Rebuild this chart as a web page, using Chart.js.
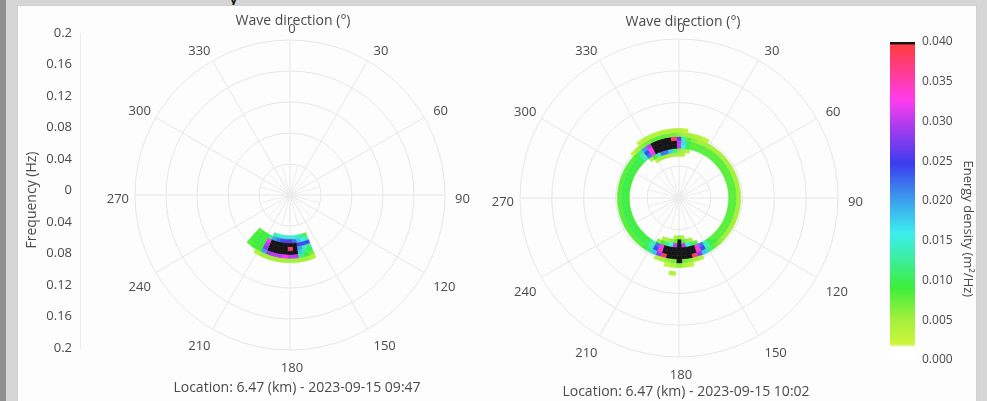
<!DOCTYPE html>
<html>
<head>
<meta charset="utf-8">
<script src="https://cdn.jsdelivr.net/npm/chart.js@4.4.1/dist/chart.umd.min.js"></script>
<style>
  html, body { margin: 0; padding: 0; }
  body { width: 987px; height: 401px; position: relative; overflow: hidden; background: #d6d6d6; font-family: "Open Sans", sans-serif; }
  #edge { position: absolute; left: 0; top: 0; width: 6px; height: 401px; background: #8f8f8f; }
  #panel { position: absolute; left: 17px; top: 5px; width: 960px; height: 400px; background: #fdfdfd; border: 1px solid #cfcfcf; box-sizing: border-box; }
  #heading { position: absolute; left: 228px; top: -20px; font: 22px "Open Sans", sans-serif; color: #111; }
  canvas { position: absolute; top: 0; }
  #cL { left: 0; }
  #cR { left: 490px; }
  #cB { left: 860px; }
</style>
</head>
<body>
<div id="edge"></div>
<div id="heading">y</div>
<div id="panel"></div>
<canvas id="cL" width="490" height="401"></canvas>
<canvas id="cR" width="380" height="401"></canvas>
<canvas id="cB" width="127" height="401"></canvas>
<script>
// ---- spectrum data: energy density in 10^-3 m^2/Hz, one row per frequency bin ----
const DIR_STEP = 5;        // direction bin width (deg)
const FREQ_STEP = 0.005;   // frequency bin width (Hz)

// 2023-09-15 09:47
const DIRS_L = [160, 165, 170, 175, 180, 185, 190, 195, 200, 205, 210, 215, 220];
const FREQS_L = [0.055, 0.06, 0.065, 0.07, 0.075, 0.08, 0.085];
const ENERGY_L = [
  [ 8, 12, 14, 15, 15, 15, 15, 14, 13,  0,  0,  0,  0],
  [14, 16, 18, 22, 26, 26, 24, 22, 20, 12,  9,  9,  8],
  [24, 24, 26, 45, 40, 45, 45, 45, 45, 32,  9,  9,  9],
  [12, 14, 20, 45, 38, 45, 45, 45, 45, 30, 10, 10,  9],
  [10, 12, 18, 45, 40, 45, 45, 45, 45, 28,  9,  9,  9],
  [ 7,  9, 12, 30, 30, 32, 30, 30, 29, 20,  9,  9,  8],
  [ 4,  5,  5,  5,  5,  5,  5,  5,  5,  5,  4,  0,  0]
];

// 2023-09-15 10:02
const DIRS_R = [
    0,   5,  10,  15,  20,  25,  30,  35,  40,  45,  50,  55,
   60,  65,  70,  75,  80,  85,  90,  95, 100, 105, 110, 115,
  120, 125, 130, 135, 140, 145, 150, 155, 160, 165, 170, 175,
  180, 185, 190, 195, 200, 205, 210, 215, 220, 225, 230, 235,
  240, 245, 250, 255, 260, 265, 270, 275, 280, 285, 290, 295,
  300, 305, 310, 315, 320, 325, 330, 335, 340, 345, 350, 355
];
const FREQS_R = [0.05, 0.055, 0.06, 0.065, 0.07, 0.075, 0.08, 0.085, 0.09, 0.095];
const ENERGY_R = [
  [ 0, 0, 0, 0, 0, 0, 0, 0, 0, 0, 0, 0,   0, 0, 0, 0, 0, 0, 0, 0, 0, 0, 0, 0,
    0, 0, 0, 0, 0, 0, 0, 0, 0, 0, 0, 4,   6, 4, 0, 0, 0, 0, 0, 0, 0, 0, 0, 0,
    0, 0, 0, 0, 0, 0, 0, 0, 0, 0, 0, 0,   0, 0, 0, 0, 0, 0, 0, 0, 0, 0, 0, 0],
  [ 5, 4, 0, 0, 0, 0, 0, 0, 0, 0, 0, 0,   0, 0, 0, 0, 0, 0, 0, 0, 0, 0, 0, 0,
    0, 0, 0, 0, 0, 0, 0, 0, 0, 5, 6, 8,  45, 8, 6, 5, 4, 0, 0, 0, 0, 0, 0, 0,
    0, 0, 0, 0, 0, 0, 0, 0, 0, 0, 0, 0,   0, 0, 0, 0, 0, 0, 4, 5, 5, 5, 5, 5],
  [ 6, 5, 4, 0, 0, 0, 0, 0, 0, 0, 0, 0,   0, 0, 0, 0, 0, 0, 0, 0, 0, 0, 0, 0,
    0, 0, 0, 0, 0, 0, 0, 0, 8,12,16,30,  45,30,16,12, 9, 6, 0, 0, 0, 0, 0, 0,
    0, 0, 0, 0, 0, 0, 0, 0, 0, 0, 0, 0,   0, 0, 0, 0, 0, 5, 9,14,22,22,18,12],
  [30,16,10, 8, 8, 8, 8, 8, 8, 8, 8, 8,   8, 8, 8, 8, 8, 8, 8, 8, 8, 8, 8, 8,
    8, 8, 8, 8, 8, 9,14,22,32,45,45,45,  45,45,45,45,32,22,14,10, 9, 9, 9, 9,
    9, 9, 9, 9, 9, 9, 9, 9, 9, 9, 9, 9,   9, 9, 9,10,14,22,32,45,45,45,45,40],
  [30,17,10, 8, 8, 8, 8, 8, 8, 8, 8, 8,   8, 8, 8, 8, 8, 8, 8, 8, 8, 8, 8, 8,
    8, 8, 8, 8, 9,10,14,24,34,45,45,45,  45,45,45,45,34,24,14,11,10,10,10,10,
   10,10,10,10,10,10,10,10,10,10,10,10,  10,10,10,10,14,24,33,45,45,45,45,42],
  [26,13, 8, 6, 5, 5, 5, 5, 5, 5, 5, 5,   5, 5, 5, 5, 5, 5, 5, 5, 5, 5, 5, 5,
    5, 5, 5, 6, 7, 8,12,18,28,38,42,45,  45,45,42,38,28,18,12, 9, 8, 8, 8, 8,
    8, 8, 8, 8, 8, 8, 8, 8, 8, 8, 8, 8,   8, 8, 8, 9,12,20,30,45,45,45,45,38],
  [ 6, 5, 5, 4, 4, 3, 0, 0, 0, 0, 0, 0,   0, 0, 0, 0, 0, 0, 0, 0, 0, 0, 0, 0,
    0, 0, 0, 0, 0, 0, 0, 0, 4, 5, 6, 7,  45, 7, 6, 5, 4, 0, 0, 0, 0, 0, 0, 0,
    0, 0, 0, 0, 0, 0, 0, 0, 0, 0, 0, 0,   0, 0, 0, 3, 5, 6, 7, 8, 8, 8, 7, 7],
  [ 4, 3, 0, 0, 0, 0, 0, 0, 0, 0, 0, 0,   0, 0, 0, 0, 0, 0, 0, 0, 0, 0, 0, 0,
    0, 0, 0, 0, 0, 0, 0, 0, 0, 0, 3, 4,   6, 4, 3, 0, 0, 0, 0, 0, 0, 0, 0, 0,
    0, 0, 0, 0, 0, 0, 0, 0, 0, 0, 0, 0,   0, 0, 0, 0, 0, 3, 4, 4, 4, 4, 4, 4],
  [ 0, 0, 0, 0, 0, 0, 0, 0, 0, 0, 0, 0,   0, 0, 0, 0, 0, 0, 0, 0, 0, 0, 0, 0,
    0, 0, 0, 0, 0, 0, 0, 0, 0, 0, 0, 0,   0, 0, 0, 0, 0, 0, 0, 0, 0, 0, 0, 0,
    0, 0, 0, 0, 0, 0, 0, 0, 0, 0, 0, 0,   0, 0, 0, 0, 0, 0, 0, 0, 0, 0, 0, 0],
  [ 0, 0, 0, 0, 0, 0, 0, 0, 0, 0, 0, 0,   0, 0, 0, 0, 0, 0, 0, 0, 0, 0, 0, 0,
    0, 0, 0, 0, 0, 0, 0, 0, 0, 0, 0, 0,   0, 4, 0, 0, 0, 0, 0, 0, 0, 0, 0, 0,
    0, 0, 0, 0, 0, 0, 0, 0, 0, 0, 0, 0,   0, 0, 0, 0, 0, 0, 0, 0, 0, 0, 0, 0]
];

// ---- axes ----
const ANGLE_TICKS = [0, 30, 60, 90, 120, 150, 180, 210, 240, 270, 300, 330];
const RING_FREQS = [0.04, 0.08, 0.12, 0.16, 0.2];
const FREQ_MAX = 0.2;
const ENERGY_MAX = 0.04;

// colour scale, energy in 10^-3 m^2/Hz
const COLOR_STOPS = [
  [0,    '#ffffff'], [1.6,  '#ffffff'], [2.0,  '#cdf53c'], [5.0,  '#a4f03c'],
  [9.2,  '#3cee3c'], [12.6, '#3cee9c'], [16.0, '#3ceeee'], [20.5, '#3c96ee'],
  [24.7, '#3c3cee'], [29.0, '#a03cee'], [32.7, '#ff3cee'], [36.5, '#ff3c8c'],
  [39.2, '#ff3c48'], [39.6, '#ff3c48'], [39.8, '#141414'], [40.0, '#141414']
];

const FONT = '"Open Sans", sans-serif';
const TEXT = '#4a4a4a';
const GRID = '#e6e6e6';
const TICK_PX = 13;
const CAPTION_PX = 14;

function hexRgb(h) { return [1, 3, 5].map(i => parseInt(h.substr(i, 2), 16)); }
function energyColor(v) {
  if (v >= COLOR_STOPS[COLOR_STOPS.length - 1][0]) return COLOR_STOPS[COLOR_STOPS.length - 1][1];
  for (let i = 1; i < COLOR_STOPS.length; i++) {
    const [v1, c1] = COLOR_STOPS[i];
    const [v0, c0] = COLOR_STOPS[i - 1];
    if (v <= v1) {
      const t = (v - v0) / (v1 - v0 || 1);
      const a = hexRgb(c0), b = hexRgb(c1);
      return 'rgb(' + a.map((x, k) => Math.round(x + (b[k] - x) * t)).join(',') + ')';
    }
  }
}

function sector(ctx, cx, cy, r0, r1, d0, d1) {
  const a0 = (d0 - 90) * Math.PI / 180, a1 = (d1 - 90) * Math.PI / 180;
  ctx.beginPath();
  ctx.arc(cx, cy, r1, a0, a1);
  ctx.arc(cx, cy, Math.max(r0, 0), a1, a0, true);
  ctx.closePath();
}

// polar spectrum drawn on the frequency scales px / py
function polarPlugin(opts) {
  return {
    id: 'polarSpectrum',
    beforeDatasetsDraw(chart) {
      const ctx = chart.ctx;
      const sx = chart.scales.px, sy = chart.scales.py;
      const cx = sx.getPixelForValue(0), cy = sy.getPixelForValue(0);
      const rad = f => cy - sy.getPixelForValue(f);
      const R = rad(FREQ_MAX);
      ctx.save();

      // grid: rings
      ctx.strokeStyle = GRID;
      ctx.lineWidth = 1;
      RING_FREQS.forEach(f => {
        ctx.beginPath();
        ctx.arc(cx, cy, rad(f), 0, Math.PI * 2);
        ctx.stroke();
      });
      // grid: spokes
      ANGLE_TICKS.forEach(d => {
        const a = (d - 90) * Math.PI / 180;
        ctx.beginPath();
        ctx.moveTo(cx, cy);
        ctx.lineTo(cx + R * Math.cos(a), cy + R * Math.sin(a));
        ctx.stroke();
      });
      // finer spokes inside the first ring
      const r1 = rad(RING_FREQS[0]);
      ctx.strokeStyle = '#ededed';
      ANGLE_TICKS.forEach(d => {
        const a = (d + 15 - 90) * Math.PI / 180;
        ctx.beginPath();
        ctx.moveTo(cx, cy);
        ctx.lineTo(cx + r1 * Math.cos(a), cy + r1 * Math.sin(a));
        ctx.stroke();
      });

      // spectrum cells
      opts.freqs.forEach((f, i) => {
        opts.dirs.forEach((d, j) => {
          const v = opts.energy[i][j];
          if (!v) return;
          const col = energyColor(v);
          sector(ctx, cx, cy, rad(f - FREQ_STEP / 2), rad(f + FREQ_STEP / 2),
                 d - DIR_STEP / 2, d + DIR_STEP / 2);
          ctx.fillStyle = col;
          ctx.fill();
          ctx.strokeStyle = col;
          ctx.lineWidth = 0.6;
          ctx.stroke();
        });
      });

      // direction labels
      ctx.font = TICK_PX + 'px ' + FONT;
      ctx.fillStyle = TEXT;
      const lx = cx + 2, ly = cy + 4, lr = R + 8;
      ANGLE_TICKS.forEach(d => {
        const a = d * Math.PI / 180;
        const x = lx + lr * Math.sin(a), y = ly - lr * Math.cos(a);
        ctx.textAlign = (d === 0 || d === 180) ? 'center' : (d < 180 ? 'left' : 'right');
        ctx.textBaseline = (d === 90 || d === 270) ? 'middle' : ((d < 90 || d > 270) ? 'bottom' : 'top');
        ctx.fillText(String(d), x, y);
      });

      // captions
      ctx.font = CAPTION_PX + 'px ' + FONT;
      ctx.textAlign = 'center';
      ctx.textBaseline = 'middle';
      ctx.fillText('Wave direction (°)', cx + opts.titleDx, cy - R - opts.titleGap);
      ctx.fillText(opts.caption, cx + 7, cy + R + opts.captionGap);
      if (opts.yTitle) {
        ctx.save();
        ctx.translate(opts.yTitle.x, opts.yTitle.y);
        ctx.rotate(-Math.PI / 2);
        ctx.fillText('Frequency (Hz)', 0, 0);
        ctx.restore();
      }
      ctx.restore();
    }
  };
}

Chart.defaults.font.family = FONT;
Chart.defaults.color = TEXT;
Chart.defaults.animation = false;

// left panel
new Chart(document.getElementById('cL'), {
  type: 'scatter',
  data: { datasets: [{ data: [], xAxisID: 'px', yAxisID: 'py' }] },
  options: {
    responsive: false,
    layout: { padding: { left: 17, top: 33, bottom: 53, right: 0 } },
    plugins: { legend: { display: false }, tooltip: { enabled: false } },
    scales: {
      y: {
        type: 'linear', position: 'left', min: -FREQ_MAX, max: FREQ_MAX,
        afterFit(s) { s.width = 63; },
        grid: { display: false, drawTicks: false },
        border: { display: true, color: '#ededed' },
        ticks: {
          stepSize: 0.04, padding: 8, font: { size: TICK_PX }, color: TEXT,
          callback: v => { const a = Math.abs(v); return a < 1e-9 ? '0' : String(+a.toFixed(2)); }
        }
      },
      px: { type: 'linear', axis: 'x', display: false, min: -0.270968, max: 0.258065 },
      py: { type: 'linear', axis: 'y', display: false, min: -0.197419, max: 0.209032 }
    }
  },
  plugins: [polarPlugin({
    dirs: DIRS_L, freqs: FREQS_L, energy: ENERGY_L,
    caption: 'Location: 6.47 (km) - 2023-09-15 09:47',
    titleDx: 3, titleGap: 19, captionGap: 38,
    yTitle: { x: 32, y: 200 }
  })]
});

// right panel
new Chart(document.getElementById('cR'), {
  type: 'scatter',
  data: { datasets: [{ data: [], xAxisID: 'px', yAxisID: 'py' }] },
  options: {
    responsive: false,
    layout: { padding: 0 },
    plugins: { legend: { display: false }, tooltip: { enabled: false } },
    scales: {
      px: { type: 'linear', axis: 'x', display: false, min: -0.237736, max: 0.240252 },
      py: { type: 'linear', axis: 'y', display: false, min: -0.255346, max: 0.249057 }
    }
  },
  plugins: [polarPlugin({
    dirs: DIRS_R, freqs: FREQS_R, energy: ENERGY_R,
    caption: 'Location: 6.47 (km) - 2023-09-15 10:02',
    titleDx: 4, titleGap: 17, captionGap: 35
  })]
});

// colour bar
const colorbarTitle = {
  id: 'colorbarTitle',
  afterDraw(chart) {
    const ctx = chart.ctx, s = chart.scales.y;
    ctx.save();
    ctx.font = '13px ' + FONT;
    ctx.fillStyle = TEXT;
    ctx.textAlign = 'center';
    ctx.textBaseline = 'middle';
    ctx.translate(s.right - 19, s.getPixelForValue(0.0165));
    ctx.rotate(Math.PI / 2);
    ctx.fillText('Energy density (m²/Hz)', 0, 0);
    ctx.restore();
  }
};
new Chart(document.getElementById('cB'), {
  type: 'bar',
  data: {
    labels: [''],
    datasets: [{
      data: [[0, ENERGY_MAX]],
      barPercentage: 1, categoryPercentage: 1, borderWidth: 0,
      backgroundColor(c) {
        const area = c.chart.chartArea;
        if (!area) return '#fff';
        const g = c.chart.ctx.createLinearGradient(0, area.bottom, 0, area.top);
        COLOR_STOPS.forEach(([v, col]) => g.addColorStop(v / 1000 / ENERGY_MAX, col));
        return g;
      }
    }]
  },
  options: {
    responsive: false,
    layout: { padding: { left: 30, top: 42, bottom: 41, right: 0 } },
    plugins: { legend: { display: false }, tooltip: { enabled: false } },
    scales: {
      x: { display: false },
      y: {
        position: 'right', min: 0, max: ENERGY_MAX,
        afterFit(s) { s.width = 72; },
        grid: { display: false, drawTicks: false }, border: { display: false },
        ticks: { stepSize: 0.005, padding: 7, font: { size: 12 }, color: TEXT, callback: v => v.toFixed(3) }
      }
    }
  },
  plugins: [colorbarTitle]
});
</script>
</body>
</html>
